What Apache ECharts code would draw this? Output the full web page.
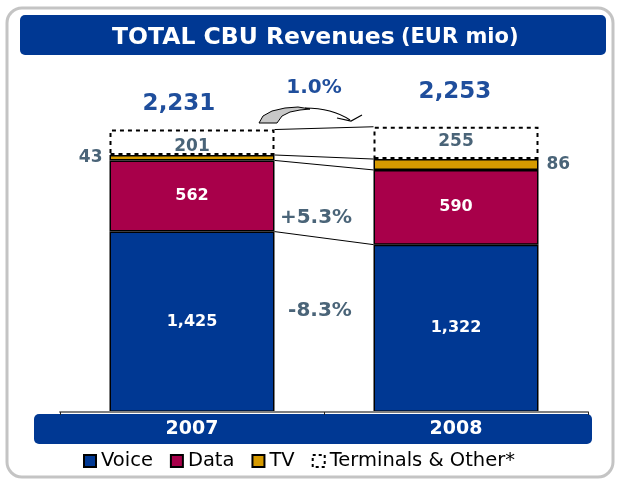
<!DOCTYPE html>
<html lang="en">
<head>
    <meta charset="UTF-8">
    <title>total-cbu-revenues</title>
    <script src="https://cdn.jsdelivr.net/npm/echarts@6/dist/echarts.min.js"></script>
    <style>
        html, body {
            margin: 0;
            padding: 0;
            background: #fff;
        }

        #main {
            width: 617px;
            height: 485px;
        }
    </style>
</head>
<body>
<div id="main"></div>
<script>
    // 数据
    let years = ['2007', '2008'];
    let voice = [1425, 1322];
    let dataRev = [562, 590];
    let tv = [43, 86];
    let terminals = [201, 255];
    let totals = [2231, 2253];

    let FONT = 'DejaVu Sans';
    let BLUE = '#003893';
    let GREYBLUE = '#4A6478';
    let barWidth = 165;

    // 每一层的累计值, 用来画两根柱子之间的连线
    function cumLevels() {
        let rows = [];
        let s = [voice, dataRev, tv, terminals];
        let acc = [0, 0];
        s.forEach(function (arr) {
            acc = [acc[0] + arr[0], acc[1] + arr[1]];
            rows.push([0, acc[0], acc[1]]);
        });
        return rows;
    }

    function fmt(v) {
        return v.toLocaleString('en-US');
    }

    let myChart = echarts.init(document.getElementById('main'), null, {renderer: 'canvas'});

    let option = {
        animation: false,
        textStyle: {fontFamily: FONT},
        title: {
            text: '{a|TOTAL CBU Revenues} {b|(EUR mio)}',
            left: 112,
            top: 26,
            padding: 0,
            textStyle: {
                rich: {
                    a: {fontFamily: FONT, fontSize: 23.5, fontWeight: 'bold', color: '#fff'},
                    b: {fontFamily: FONT, fontSize: 21, fontWeight: 'bold', color: '#fff'}
                }
            }
        },
        grid: {
            left: 60,
            right: 29,
            top: 57.5,
            bottom: 73
        },
        legend: {
            left: 78,
            top: 446,
            icon: 'rect',
            itemWidth: 12,
            itemHeight: 12,
            itemGap: 17,
            textStyle: {fontFamily: FONT, fontSize: 19.5, color: '#000'},
            data: [
                {name: 'Voice'},
                {name: 'Data'},
                {name: 'TV'},
                {
                    name: 'Terminals & Other*',
                    itemStyle: {color: '#fff', borderColor: '#000', borderType: [3, 3], borderWidth: 2}
                }
            ]
        },
        xAxis: {
            type: 'category',
            data: years,
            axisLine: {lineStyle: {color: '#808080', width: 2}},
            axisTick: {show: true, length: 3, lineStyle: {color: '#222'}},
            axisLabel: {
                margin: 8,
                color: '#fff',
                fontFamily: FONT,
                fontWeight: 'bold',
                fontSize: 19
            },
            z: 5
        },
        yAxis: {
            type: 'value',
            min: 0,
            max: 2800,
            show: false,
            splitLine: {show: false}
        },
        graphic: [
            // 外框
            {
                type: 'rect', z: -10,
                shape: {x: 7, y: 8, width: 606, height: 469, r: 15},
                style: {fill: '#fff', stroke: '#C4C4C4', lineWidth: 3}
            },
            // 标题底色
            {
                type: 'rect', z: -5,
                shape: {x: 20, y: 15, width: 586, height: 40, r: 5},
                style: {fill: BLUE}
            },
            // 年份底色
            {
                type: 'rect', z: -5,
                shape: {x: 34, y: 414, width: 558, height: 30, r: 5},
                style: {fill: BLUE}
            },
            // 弯箭头
            {
                type: 'polygon', z: 20,
                shape: {
                    points: [[259, 123], [263, 116], [272, 111], [285, 108], [298, 107], [310, 109],
                        [300, 110], [290, 112], [282, 116], [277, 123]]
                },
                style: {fill: '#C8C8C8', stroke: '#000', lineWidth: 1}
            },
            {
                type: 'bezierCurve', z: 20,
                shape: {x1: 305, y1: 108, cpx1: 332, cpy1: 108, x2: 350, y2: 120},
                style: {fill: null, stroke: '#000', lineWidth: 1.2}
            },
            {
                type: 'polyline', z: 20,
                shape: {points: [[337, 118], [351, 121], [362, 115]]},
                style: {fill: null, stroke: '#000', lineWidth: 1.2}
            },
            {
                type: 'text', z: 20, x: 314, y: 88,
                style: {text: '1.0%', fill: '#1F4E9C', font: 'bold 20px "DejaVu Sans"', align: 'center', verticalAlign: 'middle'}
            },
            {
                type: 'text', z: 20, x: 316, y: 218,
                style: {text: '+5.3%', fill: GREYBLUE, font: 'bold 20px "DejaVu Sans"', align: 'center', verticalAlign: 'middle'}
            },
            {
                type: 'text', z: 20, x: 320, y: 311,
                style: {text: '-8.3%', fill: GREYBLUE, font: 'bold 20px "DejaVu Sans"', align: 'center', verticalAlign: 'middle'}
            }
        ],
        series: [
            {
                name: 'Voice',
                type: 'bar',
                stack: 'rev',
                barWidth: barWidth,
                data: voice,
                itemStyle: {color: BLUE, borderColor: '#000', borderWidth: 1.5},
                label: {
                    show: true,
                    position: 'inside',
                    color: '#fff',
                    fontFamily: FONT,
                    fontWeight: 'bold',
                    fontSize: 16,
                    formatter: function (p) {
                        return fmt(p.value);
                    }
                }
            },
            {
                name: 'Data',
                type: 'bar',
                stack: 'rev',
                barWidth: barWidth,
                data: dataRev,
                itemStyle: {color: '#A8004A', borderColor: '#000', borderWidth: 1.5},
                label: {
                    show: true,
                    position: 'inside',
                    color: '#fff',
                    fontFamily: FONT,
                    fontWeight: 'bold',
                    fontSize: 16
                }
            },
            {
                name: 'TV',
                type: 'bar',
                stack: 'rev',
                barWidth: barWidth,
                data: tv.map(function (v, i) {
                    return {
                        value: v,
                        label: i === 0 ? {position: 'left', distance: 7} : {position: 'right', distance: 8}
                    };
                }),
                itemStyle: {color: '#D69A00', borderColor: '#000', borderWidth: 1.5},
                label: {
                    show: true,
                    color: GREYBLUE,
                    fontFamily: FONT,
                    fontWeight: 'bold',
                    fontSize: 17
                }
            },
            {
                name: 'Terminals & Other*',
                type: 'bar',
                stack: 'rev',
                barWidth: barWidth,
                data: terminals.map(function (v, i) {
                    return {value: v, label: {offset: i === 0 ? [0, 4] : [0, -1]}};
                }),
                itemStyle: {color: 'rgba(255,255,255,0)', borderColor: '#000', borderWidth: 2, borderType: [4, 4]},
                label: {
                    show: true,
                    position: 'inside',
                    color: GREYBLUE,
                    fontFamily: FONT,
                    fontWeight: 'bold',
                    fontSize: 17
                }
            },
            {
                name: 'Total',
                type: 'scatter',
                symbolSize: 0,
                itemStyle: {opacity: 1},
                data: totals.map(function (v, i) {
                    return {value: v, label: {offset: i === 0 ? [-13, -9] : [-1, -18]}};
                }),
                label: {
                    show: true,
                    position: 'top',
                    color: '#1F4E9C',
                    opacity: 1,
                    fontFamily: FONT,
                    fontWeight: 'bold',
                    fontSize: 23,
                    formatter: function (p) {
                        return fmt(p.value);
                    }
                },
                z: 10
            },
            {
                name: 'links',
                type: 'custom',
                data: cumLevels(),
                encode: {x: 0, y: 1},
                renderItem: function (params, api) {
                    let p1 = api.coord([0, api.value(1)]);
                    let p2 = api.coord([1, api.value(2)]);
                    return {
                        type: 'line',
                        shape: {x1: p1[0] + barWidth / 2, y1: p1[1], x2: p2[0] - barWidth / 2, y2: p2[1]},
                        style: {stroke: '#000', lineWidth: 1}
                    };
                },
                z: 3
            }
        ]
    };

    myChart.setOption(option);
</script>
</body>
</html>
